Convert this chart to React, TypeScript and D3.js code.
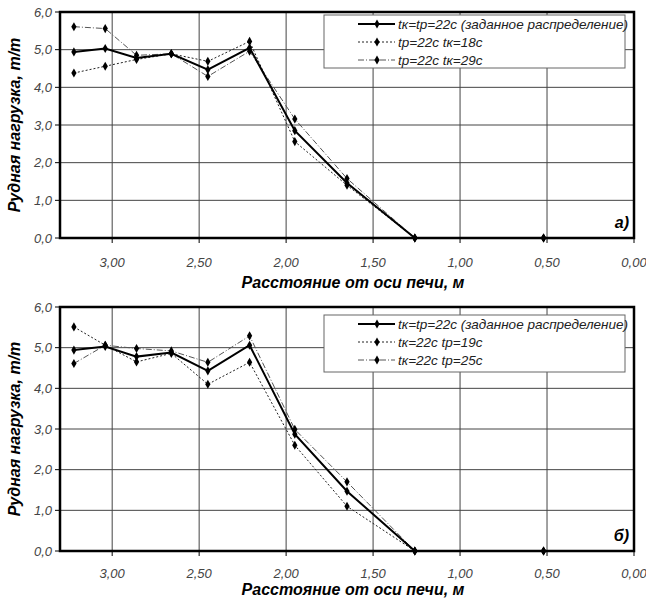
import * as d3 from 'd3'

// distance from furnace axis, m
const xPos = [3.22, 3.04, 2.86, 2.66, 2.45, 2.21, 1.95, 1.65, 1.26, 0.52]

// panel a)
const baseA = [4.94, 5.03, 4.78, 4.89, 4.47, 5.05, 2.85, 1.46, 0, 0]
const tk18 = [4.38, 4.56, 4.74, 4.89, 4.69, 5.22, 2.56, 1.4, 0, 0]
const tk29 = [5.61, 5.56, 4.85, 4.89, 4.29, 4.96, 3.16, 1.58, 0, 0]

// panel б)
const baseB = [4.94, 5.03, 4.78, 4.88, 4.43, 5.06, 2.87, 1.47, 0, 0]
const tp19 = [5.51, 5.06, 4.65, 4.86, 4.1, 4.64, 2.6, 1.1, 0, 0]
const tp25 = [4.61, 5.06, 4.98, 4.92, 4.64, 5.29, 2.99, 1.7, 0, 0]

const labelsA = ['tк=tр=22с (заданное распределение)', 'tр=22с tк=18с', 'tр=22с tк=29с']
const labelsB = ['tк=tр=22с (заданное распределение)', 'tк=22с tр=19с', 'tк=22с tр=25с']

const yTicks = [0, 1, 2, 3, 4, 5, 6]
const xTicks = [3.0, 2.5, 2.0, 1.5, 1.0, 0.5, 0.0]

const W = 646
const H = 600
const FONT = '"Liberation Sans", Arial, sans-serif'

const styles = [
  { width: 2, dash: undefined, color: '#000' },
  { width: 1, dash: '2,2', color: '#222' },
  { width: 1, dash: '6,2,1,2', color: '#555' },
]

const comma = (f: string) => (v: number) => d3.format(f)(v).replace('.', ',')

interface PanelProps {
  top: number
  bottom: number
  series: number[][]
  labels: string[]
  tag: string
  legendY: number
  legendH: number
  tickY: number
  titleY: number
}

function Panel({ top, bottom, series, labels, tag, legendY, legendH, tickY, titleY }: PanelProps) {
  const left = 60
  const right = 634
  const x = d3.scaleLinear().domain([3.3, 0]).range([left, right])
  const y = d3.scaleLinear().domain([0, 6]).range([bottom, top])
  const symbol = d3.symbol().type(d3.symbolDiamond).size(24)

  const legendX = 324

  return (
    <g>
      {/* grid */}
      {yTicks.slice(1, -1).map(t => (
        <line key={'gy' + t} x1={left} x2={right} y1={y(t)} y2={y(t)} stroke="#444" strokeWidth={1} />
      ))}
      {xTicks.slice(0, -1).map(t => (
        <line key={'gx' + t} x1={x(t)} x2={x(t)} y1={top} y2={bottom} stroke="#444" strokeWidth={1} />
      ))}

      {/* series, drawn back to front */}
      {[2, 1, 0].map(i => {
        const line = d3.line<number>().x((_, j) => x(xPos[j])).y(d => y(d))
        const s = styles[i]
        return (
          <g key={'s' + i}>
            <path d={line(series[i]) || ''} fill="none" stroke={s.color} strokeWidth={s.width} strokeDasharray={s.dash} />
            {series[i].map((d, j) => (
              <path key={j} d={symbol() || ''} transform={`translate(${x(xPos[j])},${y(d)})`} fill="#000" />
            ))}
          </g>
        )
      })}

      {/* frame */}
      <rect x={left} y={top} width={right - left} height={bottom - top} fill="none" stroke="#000" strokeWidth={2.5} />

      {/* y ticks */}
      {yTicks.map(t => (
        <g key={'ty' + t}>
          <line x1={left - 5} x2={left} y1={y(t)} y2={y(t)} stroke="#000" strokeWidth={1} />
          <text x={left - 8} y={y(t) + 4.5} textAnchor="end" fontSize={13} fontStyle="italic" fill="#444" fontFamily={FONT}>
            {comma('.1f')(t)}
          </text>
        </g>
      ))}

      {/* x ticks */}
      {xTicks.map(t => (
        <g key={'tx' + t}>
          <line x1={x(t)} x2={x(t)} y1={bottom} y2={bottom + 5} stroke="#000" strokeWidth={1} />
          <text x={x(t)} y={tickY} textAnchor="middle" fontSize={13} fontStyle="italic" fill="#444" fontFamily={FONT}>
            {comma('.2f')(t)}
          </text>
        </g>
      ))}

      {/* axis titles */}
      <text x={(left + right) / 2 + 6} y={titleY} textAnchor="middle" fontSize={16} fontWeight="bold" fontStyle="italic" fontFamily={FONT}>
        Расстояние от оси печи, м
      </text>
      <text
        transform={`translate(20,${(top + bottom) / 2}) rotate(-90)`}
        textAnchor="middle"
        fontSize={16}
        fontWeight="bold"
        fontStyle="italic"
        fontFamily={FONT}
      >
        Рудная нагрузка, т/т
      </text>

      <text x={right - 5} y={bottom - 10} textAnchor="end" fontSize={16} fontWeight="bold" fontStyle="italic" fontFamily={FONT}>
        {tag}
      </text>

      {/* legend */}
      <rect x={legendX} y={legendY} width={301} height={legendH} fill="#fff" stroke="#666" strokeWidth={1} />
      {labels.map((lab, i) => {
        const cy = legendY + 9 + 18 * i
        const s = styles[i]
        return (
          <g key={'l' + i}>
            <line x1={358} x2={395} y1={cy} y2={cy} stroke={s.color} strokeWidth={s.width} strokeDasharray={s.dash} />
            <path d={symbol() || ''} transform={`translate(377,${cy})`} fill="#000" />
            <text x={398} y={cy + 5} fontSize={13.5} fontStyle="italic" fill="#222" fontFamily={FONT}>
              {lab}
            </text>
          </g>
        )
      })}
    </g>
  )
}

export default function App() {
  return (
    <svg width={W} height={H} style={{ position: 'absolute', left: 0, top: 0, background: '#fff' }}>
      <rect width={W} height={H} fill="#fff" />
      <Panel
        top={12}
        bottom={238}
        series={[baseA, tk18, tk29]}
        labels={labelsA}
        tag="а)"
        legendY={15}
        legendH={53}
        tickY={267}
        titleY={288}
      />
      <Panel
        top={307}
        bottom={551}
        series={[baseB, tp19, tp25]}
        labels={labelsB}
        tag="б)"
        legendY={315}
        legendH={57}
        tickY={578}
        titleY={595}
      />
    </svg>
  )
}
